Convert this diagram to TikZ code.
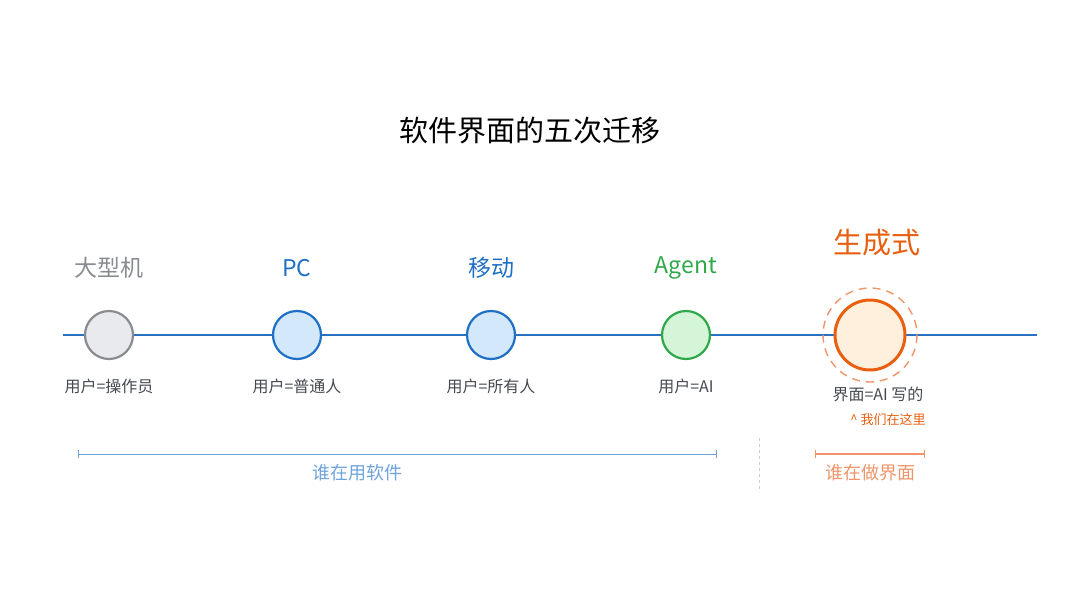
\documentclass[tikz,border=0pt]{standalone}
\usepackage{fontspec}
\setmainfont{Noto Sans CJK SC}
\definecolor{lineblue}{HTML}{2A70C0}
\definecolor{cgray}{HTML}{888C90}
\definecolor{fgray}{HTML}{E8EAED}
\definecolor{cblue}{HTML}{1F6FC5}
\definecolor{fblue}{HTML}{D3E8FB}
\definecolor{cgreen}{HTML}{2FA84A}
\definecolor{fgreen}{HTML}{D5F5D8}
\definecolor{corange}{HTML}{E8600F}
\definecolor{forange}{HTML}{FFF0DE}
\definecolor{ltext}{HTML}{444950}
\definecolor{span}{HTML}{6FA3DB}
\definecolor{spanor}{HTML}{F0956A}
\tikzset{
  stage/.style={circle, line width=2.2pt, minimum size=48pt, inner sep=0pt},
  era/.style={font=\fontsize{23}{25}\selectfont},
  who/.style={font=\fontsize{16}{18}\selectfont, text=ltext},
}
\begin{document}
\begin{tikzpicture}[x=1pt,y=-1pt]
    \useasboundingbox (0,0) rectangle (1080,608);
    % Title
    \node (title) at (530,131) {\fontsize{29}{31}\selectfont 软件界面的五次迁移};

    % Time line
    \coordinate (ls) at (63,335);
    \coordinate (le) at (1037,335);
    \draw [lineblue, line width=2pt] (ls) -- (le);

    % Stages
    \node [stage, draw=cgray, fill=fgray] (main) at (109,335) {};
    \node [stage, draw=cblue, fill=fblue] (pc) at (297,335) {};
    \node [stage, draw=cblue, fill=fblue] (mob) at (491,335) {};
    \node [stage, draw=cgreen, fill=fgreen] (agent) at (686,335) {};
    \draw [spanor, line width=1.4pt, dash pattern=on 8pt off 6pt] (870,335) circle (47);
    \node [stage, draw=corange, fill=forange, minimum size=70pt, line width=3pt] (gen) at (870,335) {};

    % Stage names
    \node [era, text=cgray] (lmain) at (109,268) {大型机};
    \node [era, text=cblue] (lpc) at (297,268) {PC};
    \node [era, text=cblue] (lmob) at (491,268) {移动};
    \node [era, text=cgreen] (lagent) at (686,268) {Agent};
    \node [text=corange, font=\fontsize{29}{31}\selectfont] (lgen) at (877,243) {生成式};

    % Users
    \node [who] (umain) at (109,386) {用户=操作员};
    \node [who] (upc) at (297,386) {用户=普通人};
    \node [who] (umob) at (491,386) {用户=所有人};
    \node [who] (uagent) at (686,386) {用户=AI};
    \node [who] (ugen) at (878,394) {界面=AI 写的};
    \node [text=corange, font=\fontsize{13}{15}\selectfont] (here) at (888,420) {\^{} 我们在这里};

    % Spans
    \coordinate (bs) at (78,454);
    \coordinate (be) at (717,454);
    \draw [span, line width=1pt, |-|] (bs) -- (be);
    \node [text=span, font=\fontsize{18}{20}\selectfont] (use) at (357,473) {谁在用软件};
    \coordinate (ds) at (759,438);
    \coordinate (de) at (759,492);
    \draw [black!20, dashed, line width=1pt] (ds) -- (de);
    \coordinate (os) at (815,454);
    \coordinate (oe) at (925,454);
    \draw [spanor, line width=1.2pt, |-|] (os) -- (oe);
    \node [text=spanor, font=\fontsize{18}{20}\selectfont] (make) at (870,473) {谁在做界面};
\end{tikzpicture}
\end{document}
